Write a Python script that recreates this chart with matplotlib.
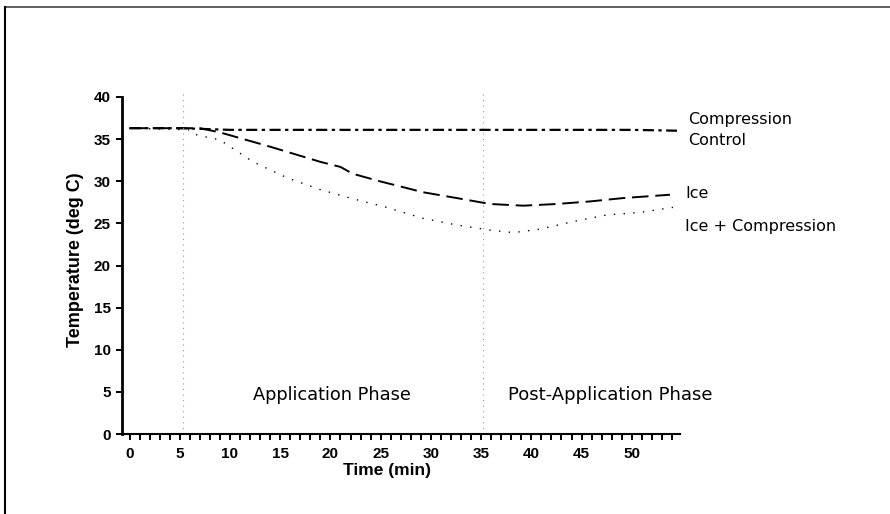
import matplotlib
matplotlib.use("Agg")
import matplotlib.pyplot as plt
from matplotlib.ticker import MultipleLocator
from matplotlib.lines import Line2D

# Data (time in minutes, temperature in deg C)
ctrl_t = [0, 5, 10, 20, 30, 40, 50, 54.5]
ctrl_T = [36.3, 36.3, 36.1, 36.1, 36.1, 36.1, 36.1, 36.0]

ice_t = [0, 7, 9, 14, 19, 21, 22.2, 24.9, 26.9, 29.2, 32.6, 35.9, 39.2, 42.5, 45.8, 49.1, 53.8]
ice_T = [36.3, 36.3, 35.8, 34.1, 32.3, 31.7, 30.9, 30.0, 29.4, 28.7, 28.0, 27.3, 27.1, 27.3, 27.6, 28.0, 28.4]

icec_t = [0, 6, 6.7, 9, 12.3, 15.7, 19, 22.3, 25.6, 29.2, 32.6, 35.9, 38.2, 40.8, 44.1, 47.5, 50.8, 54.1]
icec_T = [36.3, 36.1, 35.5, 34.9, 32.3, 30.4, 29.0, 27.9, 26.9, 25.6, 24.8, 24.2, 23.9, 24.3, 25.2, 26.0, 26.3, 26.9]

phase_marks = [5.3, 35.2]
series_labels = ["Compression\nControl", "Ice", "Ice + Compression"]
phase_labels = ["Application Phase", "Post-Application Phase"]
x_ticks = list(range(0, 51, 5))
y_ticks = list(range(0, 41, 5))

fig = plt.figure(figsize=(8.9, 5.14), dpi=100)
ax = fig.add_axes([122/890, 1-434/514, (680-122)/890, (434-97)/514])

ax.plot(ctrl_t, ctrl_T, color="black", lw=1.6, linestyle=(0, (5, 2, 1.5, 2)))
ax.plot(ice_t, ice_T, color="black", lw=1.4, linestyle=(0, (8.5, 3.5)))
ax.plot(icec_t, icec_T, color="black", lw=1.0, linestyle=(0, (1, 6)))

for m in phase_marks:
    ax.axvline(m, color="#999999", lw=0.8, linestyle=(0, (1, 4)), ymax=1.012, clip_on=False)

ax.set_xlim(-0.75, 54.8)
ax.set_ylim(0, 40)
ax.set_xticks(x_ticks)
ax.set_yticks(y_ticks)
ax.xaxis.set_minor_locator(MultipleLocator(1))
ax.tick_params(axis="x", which="both", direction="out", length=4, width=1.4, pad=5)
ax.tick_params(axis="y", which="major", direction="out", length=4, width=1.4, pad=4)
for lab in ax.get_xticklabels() + ax.get_yticklabels():
    lab.set_fontweight("bold")
    lab.set_fontsize(11)
    lab.set_family("Liberation Sans")

for s in ["top", "right"]:
    ax.spines[s].set_visible(False)
ax.spines["left"].set_linewidth(2)
ax.spines["bottom"].set_linewidth(1.5)

ax.set_xlabel("Time (min)", fontsize=12.5, fontweight="bold", family="Liberation Sans")
ax.xaxis.set_label_coords((387-122)/(680-122), -(471-434)/(434-97), transform=ax.transAxes)
ax.xaxis.label.set_va("center")
ax.set_ylabel("Temperature (deg C)", fontsize=13, fontweight="bold", family="Liberation Sans")
ax.yaxis.set_label_coords(-(122-75)/(680-122), (434-260)/(434-97), transform=ax.transAxes)
ax.yaxis.label.set_va("center")

lab_kw = dict(fontsize=11.5, family="DejaVu Sans", va="center", ha="left")
fig.text(688/890, 1-130/514, series_labels[0], linespacing=1.45, **lab_kw)
fig.text(685/890, 1-194/514, series_labels[1], **lab_kw)
fig.text(685/890, 1-226/514, series_labels[2], **lab_kw)

fig.text(332/890, 1-395/514, phase_labels[0], fontsize=12.8, family="DejaVu Sans", ha="center", va="center")
fig.text(610/890, 1-395/514, phase_labels[1], fontsize=13, family="DejaVu Sans", ha="center", va="center")

# page border (top and left)
fig.add_artist(Line2D([5/890, 1.0], [1-7/514, 1-7/514], color="#444444", lw=1.2, transform=fig.transFigure))
fig.add_artist(Line2D([5/890, 5/890], [0, 1-7/514], color="black", lw=1.5, transform=fig.transFigure))

fig.savefig("out.png", dpi=100)
